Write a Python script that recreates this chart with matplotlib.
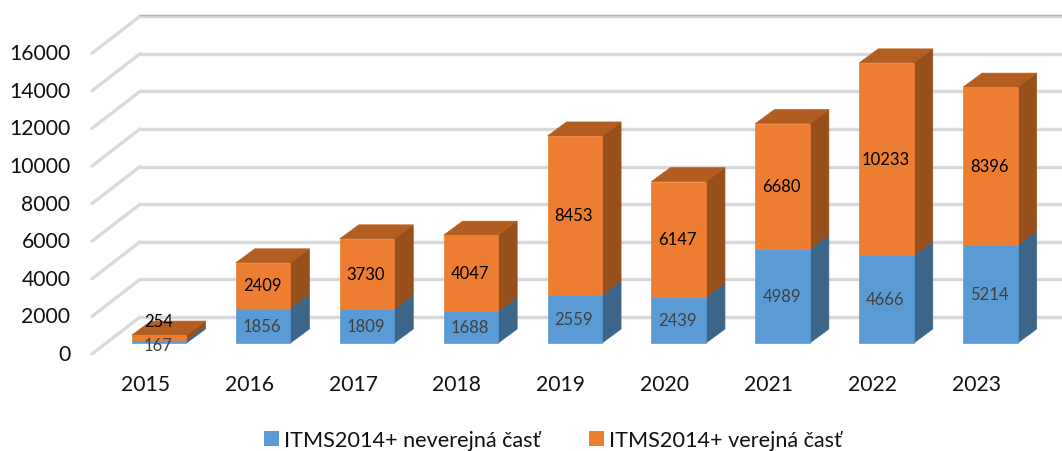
import matplotlib
matplotlib.use("Agg")
import matplotlib.pyplot as plt
from matplotlib.patches import Polygon, Patch

plt.rcParams['font.family'] = ['Lato', 'DejaVu Sans']

years = ['2015', '2016', '2017', '2018', '2019', '2020', '2021', '2022', '2023']
nonpublic = [167, 1856, 1809, 1688, 2559, 2439, 4989, 4666, 5214]
public = [254, 2409, 3730, 4047, 8453, 6147, 6680, 10233, 8396]
yticks = [0, 2000, 4000, 6000, 8000, 10000, 12000, 14000, 16000]
series_names = ['ITMS2014+ neverejná časť', 'ITMS2014+ verejná časť']

W, H = 1062, 452
PX_X = 103.9          # pixels per category
PX_Y = 0.0188         # pixels per value unit
X0, Y0 = 159.2, 344.0 # pixel of category 0 / value 0
DX = 19 / PX_X        # depth in category units
DY = 14 / PX_Y        # depth in value units
BW = 54.5 / PX_X
WALL_Y = 26 / PX_Y    # back wall rise of the floor

fig = plt.figure(figsize=(W / 100, H / 100), dpi=100, facecolor='white')
ax = fig.add_axes([0, 0, 1, 1])
ax.set_xlim(-X0 / PX_X, (W - X0) / PX_X)
ax.set_ylim((Y0 - H) / PX_Y, Y0 / PX_Y)
ax.axis('off')

wall_left = (140 - X0) / PX_X
front_left = (92 - X0) / PX_X
front_drop = -11 / PX_Y
grid = '#d9d9d9'
for t in yticks:
    yb = t + WALL_Y
    yf = t + front_drop
    ax.plot([wall_left, ax.get_xlim()[1]], [yb, yb], color=grid, lw=2.4, zorder=1,
            solid_capstyle='butt')
    ax.plot([front_left, wall_left], [yf, yb], color=grid, lw=2.4, zorder=1,
            solid_capstyle='round')
    ax.text((70.5 - X0) / PX_X, t - 9 / PX_Y, str(t), ha='right', va='center_baseline',
            fontsize=15.2, color='#111111', zorder=5)
top = yticks[-1] + WALL_Y + 1 / PX_Y
ax.plot([wall_left, ax.get_xlim()[1]], [top, top], color='#b4b4b4', lw=1.0, zorder=1)


def box(x, y0, y1, front, side, top_col, draw_top, z):
    l, r = x - BW / 2, x + BW / 2
    ax.add_patch(Polygon([(r, y0), (r + DX, y0 + DY), (r + DX, y1 + DY), (r, y1)],
                         fc=side, ec=side, lw=0.5, zorder=z))
    if draw_top:
        ax.add_patch(Polygon([(l, y1), (l + DX, y1 + DY), (r + DX, y1 + DY), (r, y1)],
                             fc=top_col, ec=top_col, lw=0.5, zorder=z))
    ax.add_patch(Polygon([(l, y0), (r, y0), (r, y1), (l, y1)],
                         fc=front, ec=front, lw=0.5, zorder=z + 0.1))


BLUE = ('#5b9bd5', '#3c6689', '#4a7dab')
ORANGE = ('#ed7d31', '#97501c', '#b35d21')

for i, (a, b) in enumerate(zip(nonpublic, public)):
    box(i, 0, a, *BLUE, False, 2 + i * 0.01)
    box(i, a, a + b, *ORANGE, True, 2.5 + i * 0.01)
    if a + b < 1000:
        ya, yb = -80, 1160
    else:
        ya, yb = a / 2, a + b / 2
    ax.text(i - 1 / PX_X, ya, str(a), ha='center', va='center', fontsize=12,
            color='#404040', zorder=6)
    ax.text(i - 1 / PX_X, yb, str(b), ha='center', va='center', fontsize=12,
            color='black', zorder=6)
    ax.text(i - 14 / PX_X, -41 / PX_Y, years[i], ha='center', va='center',
            fontsize=15.2, color='#111111', zorder=5)

handles = [Patch(fc=BLUE[0], ec='none'), Patch(fc=ORANGE[0], ec='none')]
fig.legend(handles, series_names, loc='center', bbox_to_anchor=(553 / W, 1 - 441 / H),
           ncol=2, frameon=False, fontsize=15.6, handlelength=0.68, handleheight=0.68,
           handletextpad=0.25, columnspacing=2.25, labelcolor='#111111')

fig.savefig('out.png', dpi=100)
